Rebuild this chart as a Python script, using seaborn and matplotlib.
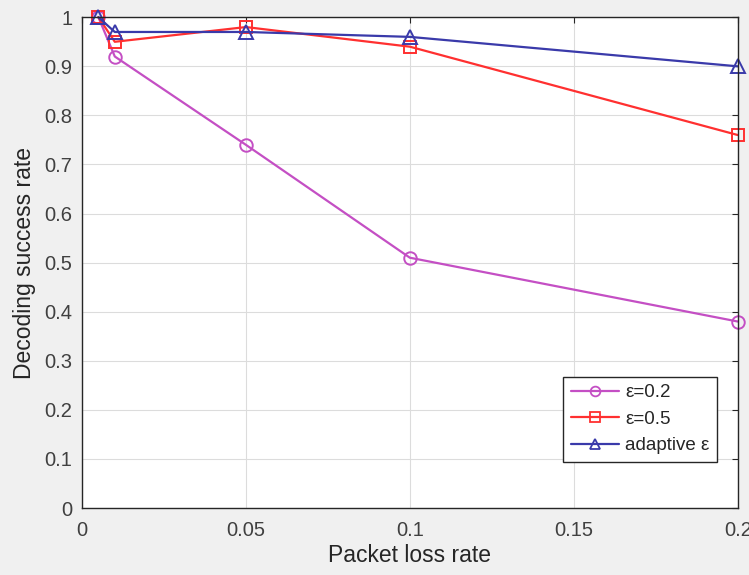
import numpy as np
import pandas as pd
import matplotlib
matplotlib.use("Agg")
import matplotlib.pyplot as plt
import seaborn as sns
from matplotlib.lines import Line2D

# Values
loss_rate = [0.005, 0.01, 0.05, 0.1, 0.2]
eps_02 = [1.00, 0.92, 0.74, 0.51, 0.38]
eps_05 = [1.00, 0.95, 0.98, 0.94, 0.76]
eps_adaptive = [1.00, 0.97, 0.97, 0.96, 0.90]
series_names = ["ε=0.2", "ε=0.5", "adaptive ε"]

df = pd.DataFrame({
    "loss": loss_rate * 3,
    "rate": eps_02 + eps_05 + eps_adaptive,
    "series": [n for n in series_names for _ in loss_rate],
})

sns.set_style("whitegrid")
plt.rcParams["font.family"] = ["Liberation Sans", "DejaVu Sans"]

fig = plt.figure(figsize=(7.49, 5.75), dpi=100)
fig.patch.set_facecolor("#f0f0f0")
ax = fig.add_axes([0.1095, 0.1165, 0.8755, 0.8535])

palette = {"ε=0.2": "#c44fc4", "ε=0.5": "#ff3030", "adaptive ε": "#3a3aaa"}
markers = {"ε=0.2": "o", "ε=0.5": "s", "adaptive ε": "^"}
msize = {"o": 9, "s": 8, "^": 10.5}

sns.lineplot(
    data=df, x="loss", y="rate", hue="series", style="series",
    palette=palette, markers=markers, dashes=False, ax=ax,
    linewidth=1.6, markersize=9, legend=False,
)
# hollow markers like the original
for line in ax.get_lines():
    line.set_markerfacecolor("none")
    line.set_markeredgecolor(line.get_color())
    line.set_markeredgewidth(1.4)
    m = line.get_marker()
    if m in msize:
        line.set_markersize(msize[m])
    line.set_clip_on(False)

ax.set_xlim(0, 0.2)
ax.set_ylim(0, 1)
ax.set_xticks([0, 0.05, 0.1, 0.15, 0.2])
ax.set_xticklabels(["0", "0.05", "0.1", "0.15", "0.2"])
ax.set_yticks(np.arange(0, 1.01, 0.1))
ax.set_yticklabels(["0", "0.1", "0.2", "0.3", "0.4", "0.5", "0.6",
                    "0.7", "0.8", "0.9", "1"])
ax.grid(True, color="#dcdcdc", linewidth=0.8)
for s in ax.spines.values():
    s.set_color("#262626")
    s.set_linewidth(1.0)
ax.tick_params(axis="both", labelsize=14.5, labelcolor="#404040",
               color="#262626", direction="in", length=4, width=0.8,
               top=True, right=True)
ax.tick_params(axis="x", pad=9)
ax.tick_params(axis="y", pad=7)
ax.set_xlabel("Packet loss rate", fontsize=16.5, color="#262626", labelpad=3)
ax.set_ylabel("Decoding success rate", fontsize=16.5, color="#262626",
              labelpad=6)

handles = [Line2D([], [], color=palette[n], marker=markers[n], markersize=7,
                  markerfacecolor="none", markeredgewidth=1.3, linewidth=1.6)
           for n in series_names]
leg = ax.legend(handles, series_names, loc="lower right",
                bbox_to_anchor=(0.968, 0.094), fontsize=13.5, frameon=True,
                fancybox=False, edgecolor="#262626", framealpha=1,
                handlelength=2.6, handletextpad=0.3, borderpad=0.4,
                labelspacing=0.5, borderaxespad=0)
leg.get_frame().set_linewidth(1.0)
for t in leg.get_texts():
    t.set_color("#262626")

fig.savefig("out.png", dpi=100, facecolor=fig.get_facecolor())
